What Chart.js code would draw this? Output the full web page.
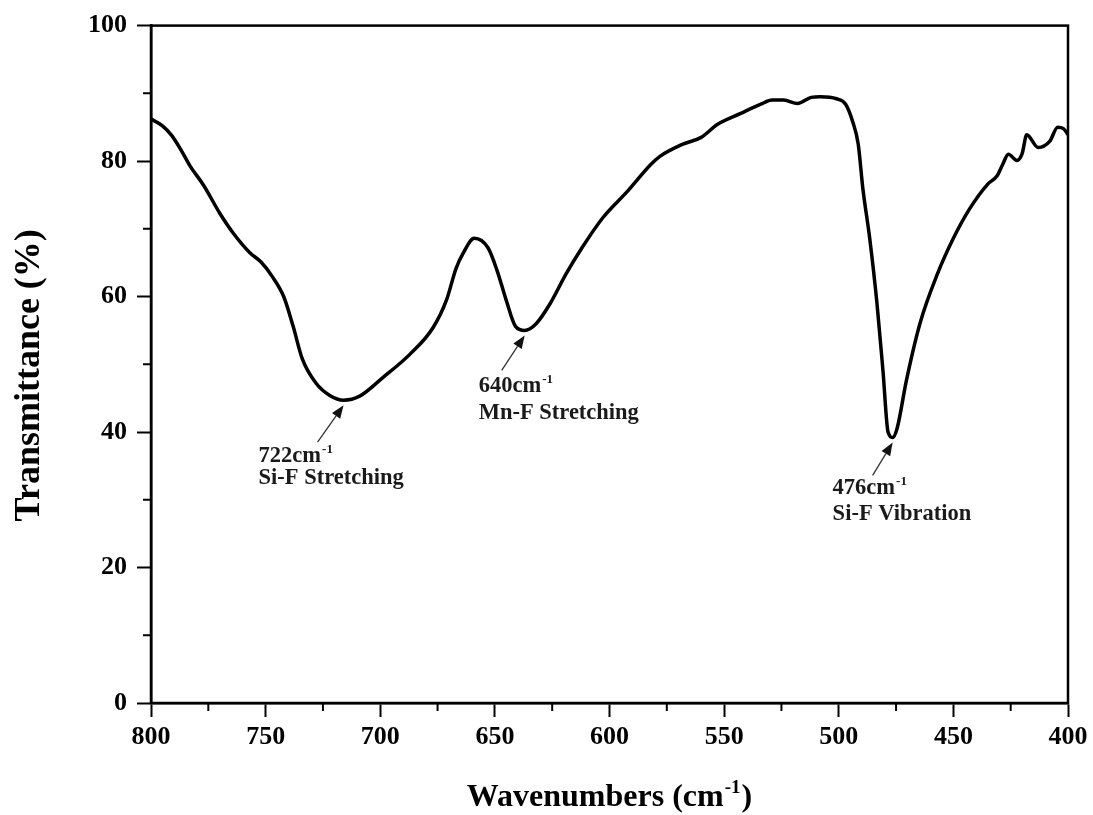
<!DOCTYPE html>
<html>
<head>
<meta charset="utf-8">
<title>FTIR spectrum</title>
<script src="https://cdn.jsdelivr.net/npm/chart.js"></script>
<style>
  html, body { margin: 0; padding: 0; background: #fff; }
  #wrap { width: 1093px; height: 815px; }
</style>
</head>
<body>
<div id="wrap"><canvas id="ftir" width="1093" height="815"></canvas></div>
<script>
// spectrum (800 -> 400 cm-1)
const wavenumbers = [
  800, 795, 791, 787, 783, 777, 770, 764, 757, 752, 747, 742, 738, 734, 728, 722, 716, 709,
  699, 687, 677, 671, 667, 664, 659, 653, 649, 645, 641, 637, 632, 626, 619, 612, 603, 592,
  582, 578, 568, 560, 553, 543, 534, 529, 524, 518, 512, 508, 501, 497, 494, 491.5, 489.5,
  486.5, 483.3, 480.7, 478.5, 476.5, 474.5, 470.5, 464.6, 457, 450, 443, 435, 431, 428.5,
  426, 422.3, 420, 418, 413, 408, 404.5, 402, 400
];
const transmittance = [
  86.2, 85.2, 83.8, 81.7, 79.3, 76.4, 72.3, 69.3, 66.5, 65.1, 62.9, 59.9, 55.6, 50.8, 47.2, 45.4, 44.7, 45.3,
  48.0, 51.5, 55.4, 59.6, 64.1, 66.3, 68.6, 67.2, 63.8, 59.4, 55.6, 55.0, 56.0, 58.9, 63.3, 67.2, 71.6, 75.6,
  79.5, 80.7, 82.5, 83.5, 85.4, 87.0, 88.4, 89.0, 89.0, 88.5, 89.4, 89.5, 89.2, 88.4, 85.9, 82.5, 76.0,
  68.6, 58.9, 49.0, 40.0, 39.2, 40.6, 47.6, 56.0, 63.3, 68.6, 72.9, 76.6, 77.8, 79.5,
  81.0, 80.1, 81.1, 83.9, 82.0, 82.9, 85.0, 84.8, 83.9
];

const xTicks = [800, 750, 700, 650, 600, 550, 500, 450, 400];
const yTicks = [0, 20, 40, 60, 80, 100];
const xMinorTicks = [775, 725, 675, 625, 575, 525, 475, 425];
const yMinorTicks = [10, 30, 50, 70, 90];

// peak callouts: where the arrow points, and the text
const peakWavenumbers = [716, 637, 476.5];
const peakTransmittance = [44.7, 55.0, 39.2];
const peakPositions = ['722cm', '640cm', '476cm'];
const peakNames = ['Si-F Stretching', 'Mn-F Stretching', 'Si-F Vibration'];

// pixel offsets of each callout from its arrow tip
const calloutLayout = [
  { tail: [-26, 37], text: [-85, 57], line2: 79 },
  { tail: [-23, 35], text: [-46, 57], line2: 84 },
  { tail: [-20, 33], text: [-60, 52], line2: 78 }
];

const SERIF = "'Liberation Serif', 'Times New Roman', serif";

// draws text with a small raised "-1" after it, returns width
function drawWithSup(ctx, base, x, y, size, supSize, rise, tail) {
  ctx.font = `bold ${size}px ${SERIF}`;
  ctx.fillText(base, x, y);
  let w = ctx.measureText(base).width;
  ctx.font = `bold ${supSize}px ${SERIF}`;
  ctx.fillText('-1', x + w + 1, y - rise);
  w += ctx.measureText('-1').width + 1;
  if (tail) {
    ctx.font = `bold ${size}px ${SERIF}`;
    ctx.fillText(tail, x + w + 1, y);
    w += ctx.measureText(tail).width + 1;
  }
  return w;
}

const framePlugin = {
  id: 'frame',
  afterDraw(chart) {
    const { ctx, chartArea: a, scales } = chart;
    ctx.save();
    ctx.strokeStyle = '#000';
    ctx.lineWidth = 2.5;
    ctx.strokeRect(a.left, a.top, a.right - a.left, a.bottom - a.top);

    // minor ticks
    ctx.lineWidth = 2;
    ctx.beginPath();
    yMinorTicks.forEach(v => {
      const py = scales.y.getPixelForValue(v);
      ctx.moveTo(a.left - 8, py);
      ctx.lineTo(a.left, py);
    });
    xMinorTicks.forEach(v => {
      const px = scales.x.getPixelForValue(v);
      ctx.moveTo(px, a.bottom);
      ctx.lineTo(px, a.bottom + 8);
    });
    ctx.stroke();

    // axis titles
    ctx.fillStyle = '#000';
    ctx.textAlign = 'left';
    ctx.textBaseline = 'alphabetic';
    ctx.font = `bold 36px ${SERIF}`;
    const yt = 'Transmittance (%)';
    const ytw = ctx.measureText(yt).width;
    ctx.save();
    ctx.translate(39, (a.top + a.bottom) / 2 + 11);
    ctx.rotate(-Math.PI / 2);
    ctx.fillText(yt, -ytw / 2, 0);
    ctx.restore();

    // measure x title first, then centre it
    ctx.globalAlpha = 0;
    const xw = drawWithSup(ctx, 'Wavenumbers (cm', 0, -100, 32, 19, 13, ')');
    ctx.globalAlpha = 1;
    drawWithSup(ctx, 'Wavenumbers (cm', (a.left + a.right) / 2 - xw / 2, 806, 32, 19, 13, ')');

    // callouts
    peakWavenumbers.forEach((wn, i) => {
      const lay = calloutLayout[i];
      const tx = scales.x.getPixelForValue(wn);
      const ty = scales.y.getPixelForValue(peakTransmittance[i]) + 5;
      const sx = tx + lay.tail[0], sy = ty + lay.tail[1];
      const ang = Math.atan2(ty - sy, tx - sx);
      const hl = 13, hw = 5;
      const bx = tx - hl * Math.cos(ang), by = ty - hl * Math.sin(ang);
      ctx.strokeStyle = '#333';
      ctx.lineWidth = 1.3;
      ctx.beginPath();
      ctx.moveTo(sx, sy);
      ctx.lineTo(bx, by);
      ctx.stroke();
      ctx.fillStyle = '#111';
      ctx.beginPath();
      ctx.moveTo(tx, ty);
      ctx.lineTo(bx + hw * Math.sin(ang), by - hw * Math.cos(ang));
      ctx.lineTo(bx - hw * Math.sin(ang), by + hw * Math.cos(ang));
      ctx.closePath();
      ctx.fill();

      ctx.fillStyle = '#1a1a1a';
      const lx = tx + lay.text[0];
      drawWithSup(ctx, peakPositions[i], lx, ty + lay.text[1], 22.5, 13, 9);
      ctx.font = `bold 22.5px ${SERIF}`;
      ctx.fillText(peakNames[i], lx, ty + lay.line2);
    });
    ctx.restore();
  }
};

new Chart(document.getElementById('ftir'), {
  type: 'scatter',
  data: {
    datasets: [{
      data: wavenumbers.map((w, i) => ({ x: w, y: transmittance[i] })),
      showLine: true,
      borderColor: '#000',
      borderWidth: 3.5,
      pointRadius: 0,
      cubicInterpolationMode: 'monotone',
      fill: false
    }]
  },
  options: {
    responsive: false,
    animation: false,
    devicePixelRatio: 1,
    layout: { padding: { top: 24, right: 25, left: 0, bottom: 0 } },
    plugins: { legend: { display: false }, tooltip: { enabled: false } },
    scales: {
      x: {
        type: 'linear',
        reverse: true,
        min: 400,
        max: 800,
        afterBuildTicks: s => { s.ticks = xTicks.map(v => ({ value: v })); },
        afterFit: s => { s.height = 112; },
        grid: { drawOnChartArea: false, drawTicks: true, tickLength: 14, tickWidth: 2, tickColor: '#000' },
        border: { display: true, color: '#000', width: 2.5 },
        ticks: { color: '#000', padding: 5, maxRotation: 0, font: { family: SERIF, size: 26, weight: 'bold' } }
      },
      y: {
        min: 0,
        max: 100,
        afterBuildTicks: s => { s.ticks = yTicks.map(v => ({ value: v })); },
        afterFit: s => { s.width = 151; },
        grid: { drawOnChartArea: false, drawTicks: true, tickLength: 14, tickWidth: 2, tickColor: '#000' },
        border: { display: true, color: '#000', width: 2.5 },
        ticks: { color: '#000', padding: 10, font: { family: SERIF, size: 26, weight: 'bold' } }
      }
    }
  },
  plugins: [framePlugin]
});
</script>
</body>
</html>
